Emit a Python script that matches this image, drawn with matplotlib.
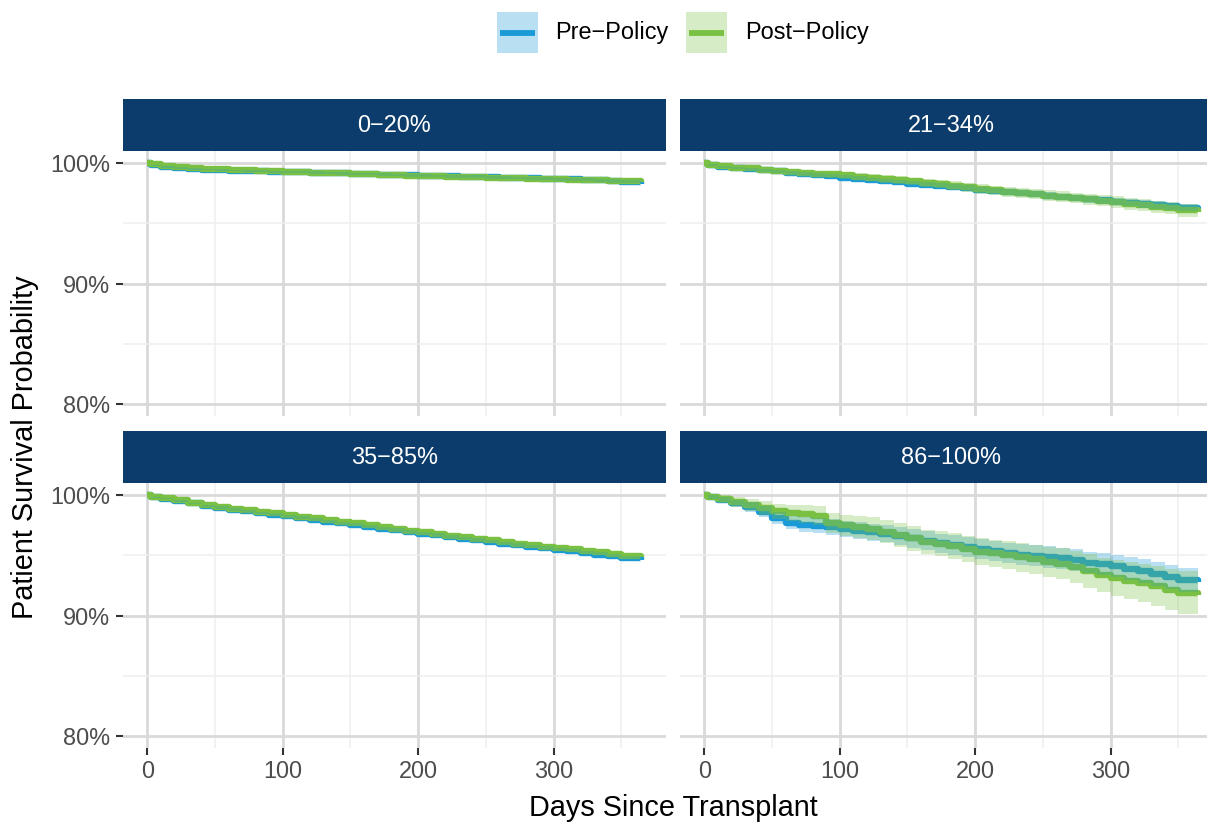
import matplotlib
matplotlib.use("Agg")
import matplotlib.pyplot as plt
from matplotlib.patches import Rectangle
from matplotlib.ticker import FuncFormatter, MultipleLocator
import numpy as np

plt.rcParams['font.family'] = ['Liberation Sans', 'DejaVu Sans']

# ---------------- data ----------------
days = [0, 3, 10, 20, 30, 40, 50, 60, 70, 80, 90, 100, 110, 120, 130, 140, 150, 160, 170,
        180, 190, 200, 210, 220, 230, 240, 250, 260, 270, 280, 290, 300, 310, 320, 330,
        340, 350, 365]

panels = ["0\u221220%", "21\u221234%", "35\u221285%", "86\u2212100%"]
groups = ["Pre\u2212Policy", "Post\u2212Policy"]

# survival estimates (%)
a_pre = [100, 99.8, 99.68, 99.58, 99.5, 99.46, 99.42, 99.38, 99.35, 99.32, 99.29, 99.26, 99.23,
         99.2, 99.17, 99.14, 99.1, 99.07, 99.04, 99.0, 98.97, 98.94, 98.92, 98.89, 98.87, 98.85,
         98.82, 98.79, 98.76, 98.73, 98.7, 98.67, 98.64, 98.61, 98.57, 98.52, 98.45, 98.3]
a_post = [100, 99.88, 99.78, 99.68, 99.6, 99.53, 99.48, 99.44, 99.4, 99.36, 99.33, 99.29, 99.25,
          99.21, 99.17, 99.14, 99.1, 99.06, 99.02, 98.98, 98.95, 98.92, 98.89, 98.86, 98.84,
          98.82, 98.79, 98.76, 98.73, 98.71, 98.69, 98.66, 98.63, 98.6, 98.57, 98.54, 98.5, 98.42]
b_pre = [100, 99.85, 99.7, 99.6, 99.5, 99.4, 99.3, 99.2, 99.1, 99.0, 98.9, 98.8, 98.7, 98.6,
         98.5, 98.4, 98.3, 98.2, 98.1, 98.0, 97.9, 97.8, 97.7, 97.6, 97.5, 97.4, 97.3, 97.2,
         97.1, 97.0, 96.9, 96.8, 96.7, 96.6, 96.5, 96.4, 96.3, 96.15]
b_post = [100, 99.85, 99.72, 99.62, 99.55, 99.45, 99.37, 99.28, 99.2, 99.12, 99.05, 98.97,
          98.88, 98.78, 98.68, 98.58, 98.47, 98.37, 98.25, 98.13, 98.0, 97.85, 97.73, 97.62,
          97.5, 97.4, 97.3, 97.2, 97.1, 97.0, 96.88, 96.75, 96.63, 96.5, 96.38, 96.27, 96.1, 95.95]
c_pre = [100, 99.82, 99.7, 99.5, 99.3, 99.12, 98.95, 98.8, 98.66, 98.52, 98.38, 98.25, 98.1,
         97.95, 97.8, 97.65, 97.5, 97.36, 97.22, 97.08, 96.94, 96.8, 96.66, 96.52, 96.38, 96.24,
         96.1, 95.97, 95.84, 95.71, 95.58, 95.45, 95.32, 95.19, 95.06, 94.93, 94.78, 94.6]
c_post = [100, 99.85, 99.74, 99.55, 99.36, 99.18, 99.02, 98.87, 98.73, 98.6, 98.47, 98.35, 98.2,
          98.06, 97.92, 97.78, 97.64, 97.5, 97.35, 97.2, 97.05, 96.9, 96.76, 96.62, 96.49, 96.36,
          96.23, 96.1, 95.97, 95.84, 95.72, 95.6, 95.48, 95.36, 95.24, 95.12, 94.98, 94.85]
d_pre = [100, 99.85, 99.6, 99.3, 99.0, 98.6, 98.1, 97.7, 97.55, 97.45, 97.35, 97.2, 97.05, 96.9,
         96.8, 96.6, 96.4, 96.2, 96.0, 95.85, 95.7, 95.55, 95.35, 95.2, 95.05, 94.95, 94.85,
         94.75, 94.6, 94.4, 94.25, 94.1, 93.9, 93.7, 93.45, 93.2, 92.95, 92.75]
d_post = [100, 99.85, 99.7, 99.45, 99.2, 98.95, 98.65, 98.5, 98.4, 98.3, 97.7, 97.5, 97.35, 97.2,
          96.95, 96.7, 96.4, 96.1, 95.95, 95.8, 95.55, 95.3, 95.15, 95.0, 94.85, 94.65, 94.45,
          94.3, 94.05, 93.7, 93.35, 93.1, 92.9, 92.7, 92.45, 92.15, 91.9, 91.7]

# confidence interval half-widths (%)
a_pre_hw = [0, .03, .05, .06, .07, .07, .08, .08, .08, .09, .09, .09, .09, .10, .10, .10, .10,
            .10, .11, .11, .11, .11, .11, .12, .12, .12, .12, .12, .12, .13, .13, .13, .13, .13,
            .14, .14, .14, .14]
a_post_hw = [0, .04, .06, .07, .08, .08, .09, .09, .10, .10, .10, .11, .11, .11, .11, .12, .12,
             .12, .12, .13, .13, .13, .13, .14, .14, .14, .14, .15, .15, .15, .15, .16, .16, .16,
             .16, .17, .17, .17]
b_pre_hw = [0, .06, .09, .11, .13, .14, .15, .16, .17, .18, .18, .19, .20, .20, .21, .21, .22,
            .22, .23, .23, .24, .24, .25, .25, .26, .26, .27, .27, .28, .28, .29, .29, .30, .30,
            .31, .31, .32, .33]
b_post_hw = [0, .08, .11, .14, .16, .18, .20, .22, .23, .25, .26, .27, .29, .30, .31, .32, .33,
             .34, .35, .36, .37, .38, .39, .40, .41, .42, .43, .44, .45, .46, .47, .48, .49, .50,
             .51, .52, .54, .56]
c_pre_hw = [0, .04, .06, .07, .08, .09, .10, .10, .11, .11, .12, .12, .12, .13, .13, .13, .14,
            .14, .14, .15, .15, .15, .15, .16, .16, .16, .16, .17, .17, .17, .17, .18, .18, .18,
            .18, .19, .19, .19]
c_post_hw = [0, .05, .07, .08, .09, .10, .11, .12, .12, .13, .13, .14, .14, .15, .15, .16, .16,
             .17, .17, .17, .18, .18, .18, .19, .19, .19, .20, .20, .20, .21, .21, .21, .22, .22,
             .22, .23, .23, .24]
d_pre_hw = [0, .15, .25, .33, .40, .46, .52, .56, .59, .62, .64, .66, .68, .70, .72, .74, .76,
            .78, .80, .81, .82, .83, .84, .85, .86, .87, .88, .89, .90, .91, .92, .93, .95, .97,
            .99, 1.01, 1.03, 1.06]
d_post_hw = [0, .20, .32, .42, .50, .57, .63, .69, .74, .79, .84, .88, .91, .94, .97, .99, 1.01,
             1.03, 1.05, 1.07, 1.09, 1.11, 1.14, 1.17, 1.20, 1.23, 1.26, 1.29, 1.33, 1.38, 1.43,
             1.48, 1.54, 1.60, 1.66, 1.72, 1.80, 1.90]

series = {
    panels[0]: [(a_pre, a_pre_hw), (a_post, a_post_hw)],
    panels[1]: [(b_pre, b_pre_hw), (b_post, b_post_hw)],
    panels[2]: [(c_pre, c_pre_hw), (c_post, c_post_hw)],
    panels[3]: [(d_pre, d_pre_hw), (d_post, d_post_hw)],
}

colors = ["#1a9ad6", "#7ac143"]
strip_col = "#0c3c6c"

# ---------------- layout ----------------
W, H = 1207, 824
fig = plt.figure(figsize=(W / 100, H / 100), dpi=100)
fig.patch.set_facecolor("white")


def ax_px(left, top, width, height, **kw):
    return fig.add_axes([left / W, 1 - (top + height) / H, width / W, height / H], **kw)


PW = 543.5
lefts = [122.7, 679.7]
strip_tops = [99, 431]
strip_h = 52
panel_h = 265

small = 16.9
big = 20.8

for i, name in enumerate(panels):
    r, c = divmod(i, 2)
    left = lefts[c]
    ptop = strip_tops[r] + strip_h
    ax = ax_px(left, ptop, PW, panel_h)
    sax = ax_px(left, strip_tops[r], PW, strip_h)
    sax.set_facecolor(strip_col)
    sax.set_xticks([]); sax.set_yticks([])
    for sp in sax.spines.values():
        sp.set_visible(False)
    sax.text(0.5, 0.5, name, color="white", fontsize=small, ha="center", va="center",
             transform=sax.transAxes)

    x = np.array(days, dtype=float)
    for (surv, hw), col in zip(series[name], colors):
        ax.step(x, surv, where="post", color=col, lw=4.6, zorder=3,
                solid_joinstyle="round", solid_capstyle="butt")
    for (surv, hw), col in zip(series[name], colors):
        s = np.array(surv); h = np.array(hw)
        ax.fill_between(x, s - h, np.minimum(s + h, 100.0), step="post",
                        color=col, alpha=0.3, lw=0, zorder=4)

    ax.set_xlim(-18.25, 383.25)
    ax.set_ylim(79, 101)
    ax.xaxis.set_major_locator(MultipleLocator(100))
    ax.xaxis.set_minor_locator(MultipleLocator(50))
    ax.set_yticks([80, 90, 100])
    ax.set_yticks([85, 95], minor=True)
    ax.grid(which="major", color="#d9d9d9", lw=2.0, zorder=0)
    ax.grid(which="minor", color="#efefef", lw=1.1, zorder=0)
    ax.set_axisbelow(True)
    for sp in ax.spines.values():
        sp.set_visible(False)
    ax.tick_params(which="minor", length=0)
    ax.tick_params(which="major", length=5, width=1.5, color="#333333",
                   labelcolor="#4d4d4d", labelsize=small, pad=4)
    ax.yaxis.set_major_formatter(FuncFormatter(lambda v, p: f"{int(round(v))}%"))
    if r == 0:
        ax.tick_params(axis="x", which="major", length=0, labelbottom=False)
    if c == 1:
        ax.tick_params(axis="y", which="major", length=0, labelleft=False)

fig.text(25 / W, 1 - 447 / H, "Patient Survival Probability", rotation=90,
         fontsize=big, ha="center", va="center", color="black")
fig.text(673 / W, 1 - 808 / H, "Days Since Transplant", fontsize=big,
         ha="center", va="center", color="black")

# legend
lax = ax_px(0, 0, W, 70)
lax.set_xlim(0, W); lax.set_ylim(70, 0)
lax.axis("off")
key_x = [497, 686]
txt_x = [555, 745]
for kx, tx, col, lab in zip(key_x, txt_x, colors, groups):
    lax.add_patch(Rectangle((kx, 12), 41, 41, facecolor=col, alpha=0.3, lw=0))
    lax.plot([kx + 3, kx + 38], [32.5, 32.5], color=col, lw=4.2, solid_capstyle="butt")
    lax.text(tx, 33, lab, fontsize=small, ha="left", va="center", color="black")

fig.savefig("out.png", dpi=100, facecolor="white")
